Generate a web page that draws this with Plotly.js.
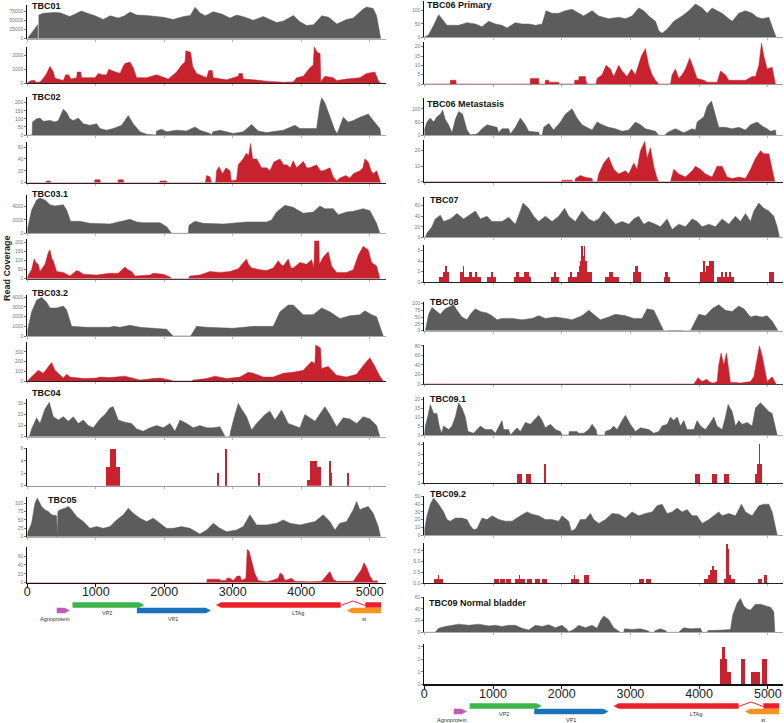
<!DOCTYPE html>
<html><head><meta charset="utf-8">
<script src="https://cdn.plot.ly/plotly-3.0.1.min.js"></script>
<style>html,body{margin:0;padding:0;background:#fff}#chart{width:784px;height:723px}</style>
</head><body><div id="chart"></div>
<script>
// ---------- DATA (genome position in bp, read coverage) ----------
// Left column samples
const TBC01_total = [[0,0],[60,15000],[140,37000],[152,38000],[153,0],[168,0],[169,64000],[230,69000],[380,71000],[480,70000],[620,60000],[700,68000],[790,75000],[890,68000],[990,62000],[1110,52000],[1210,62000],[1330,56000],[1420,62000],[1500,72000],[1600,64000],[1740,63000],[1890,61000],[1990,58000],[2130,52000],[2280,60000],[2380,63000],[2450,85000],[2520,70000],[2600,62000],[2715,73000],[2840,67000],[2960,56000],[3060,64000],[3180,58000],[3300,50000],[3445,60000],[3545,51000],[3640,44000],[3740,48000],[3885,63000],[3980,46000],[4080,36000],[4180,38000],[4300,62000],[4400,58000],[4520,40000],[4660,52000],[4760,56000],[4900,80000],[4955,86000],[5050,82000],[5100,62000],[5160,0]];
const TBC01_sub = [[0,0],[20,100],[60,200],[110,200],[130,50],[185,100],[240,400],[282,700],[331,1200],[355,1000],[380,800],[404,350],[470,250],[526,200],[560,600],[600,600],[640,300],[720,400],[730,800],[780,800],[793,400],[988,400],[1036,700],[1100,600],[1158,600],[1190,1000],[1230,900],[1280,800],[1353,700],[1400,1200],[1426,1400],[1499,1500],[1547,1100],[1596,400],[1742,400],[1888,600],[1985,400],[2058,300],[2180,800],[2253,1300],[2302,1500],[2315,2300],[2384,2200],[2414,1200],[2472,700],[2618,400],[2650,900],[2700,900],[2715,400],[2910,250],[3080,500],[3090,700],[3140,700],[3153,300],[3300,250],[3494,150],[3737,80],[3883,100],[3932,400],[4029,500],[4126,1100],[4175,1300],[4190,2600],[4230,2200],[4275,2100],[4285,100],[4297,200],[4345,500],[4467,400],[4516,200],[4662,300],[4856,400],[4954,700],[5075,800],[5124,200],[5158,0]];
const TBC02_total = [[0,0],[70,0],[75,80],[136,100],[185,105],[234,85],[331,90],[404,80],[453,90],[526,160],[574,140],[623,100],[672,90],[745,105],[818,70],[915,60],[1012,70],[1061,40],[1158,30],[1255,40],[1377,60],[1474,120],[1547,70],[1645,20],[1742,5],[1815,0],[1880,0],[1888,25],[1961,35],[2034,20],[2180,30],[2326,25],[2448,50],[2520,30],[2667,10],[2691,0],[2710,20],[2813,30],[3007,10],[3153,20],[3275,65],[3372,25],[3494,15],[3737,30],[3908,60],[3980,40],[4126,40],[4224,40],[4270,180],[4297,230],[4345,200],[4418,110],[4491,30],[4526,10],[4613,110],[4686,80],[4759,90],[4856,110],[4978,130],[5051,90],[5148,40],[5163,0]];
const TBC02_sub = [[0,0],[270,0],[282,3],[331,3],[345,0],[980,0],[988,5],[1060,5],[1070,0],[1320,0],[1330,5],[1400,5],[1410,0],[1930,0],[1940,3],[2030,3],[2040,0],[2600,0],[2618,12],[2667,10],[2690,0],[2750,0],[2764,20],[2800,27],[2850,15],[2900,25],[2960,20],[2980,3],[3056,5],[3080,30],[3150,40],[3200,50],[3230,45],[3260,66],[3290,40],[3350,40],[3420,25],[3494,25],[3543,20],[3600,35],[3690,40],[3740,30],[3786,30],[3840,25],[3883,37],[3930,25],[3980,30],[4030,36],[4080,25],[4126,25],[4224,30],[4280,20],[4321,20],[4418,25],[4467,10],[4516,3],[4564,8],[4650,12],[4710,8],[4760,15],[4856,20],[4900,25],[4929,40],[4978,35],[5020,20],[5051,15],[5100,20],[5148,5],[5160,0]];
const TBC031_total = [[0,500],[63,3500],[136,5000],[185,5300],[258,5000],[331,4300],[404,4100],[526,4300],[574,3500],[633,1800],[769,1800],[915,1500],[1207,1400],[1401,1800],[1499,2100],[1596,1700],[1693,1600],[1937,1600],[2034,1000],[2107,0],[2350,0],[2360,1200],[2448,1800],[2569,1500],[2861,1400],[3202,1700],[3494,1700],[3567,2000],[3640,3200],[3762,4200],[3883,3900],[4029,3000],[4175,3200],[4273,4100],[4345,3700],[4467,3700],[4540,2800],[4662,3200],[4759,3300],[4905,3700],[5002,3400],[5100,1500],[5148,0]];
const TBC031_sub = [[0,0],[15,20],[63,50],[100,110],[125,90],[160,80],[185,40],[258,80],[310,150],[331,160],[360,110],[380,100],[428,40],[526,35],[623,15],[720,45],[760,40],[818,25],[1012,20],[1207,30],[1328,30],[1400,60],[1426,65],[1470,50],[1523,40],[1572,15],[1791,20],[1839,30],[1985,25],[2083,10],[2107,0],[2350,0],[2375,15],[2520,20],[2667,40],[2813,35],[2959,40],[3080,55],[3180,100],[3200,110],[3230,80],[3275,60],[3397,50],[3494,45],[3591,60],[3664,100],[3700,80],[3737,70],[3810,110],[3850,60],[3883,60],[3980,90],[4078,80],[4151,105],[4185,60],[4195,210],[4258,210],[4265,80],[4321,120],[4394,150],[4443,70],[4516,35],[4662,35],[4759,50],[4832,130],[4905,180],[4978,160],[5027,90],[5100,70],[5148,0]];
const TBC032_total = [[0,500],[63,2500],[136,3700],[209,4000],[282,3500],[331,2900],[428,2900],[526,3100],[574,2700],[647,1000],[866,900],[1207,900],[1255,1000],[1353,900],[1499,1100],[1645,900],[2034,700],[2131,0],[2384,0],[2472,1000],[2618,900],[3007,800],[3300,1000],[3591,1000],[3689,2500],[3810,3200],[3883,3200],[4029,2200],[4175,2200],[4297,2900],[4418,2500],[4564,1800],[4710,2100],[4856,2200],[4929,2600],[5027,2200],[5100,2000],[5197,0]];
const TBC032_sub = [[0,0],[15,10],[88,60],[160,110],[234,80],[306,150],[355,190],[404,110],[477,60],[526,30],[574,70],[623,40],[818,25],[1012,30],[1061,40],[1207,35],[1426,50],[1547,30],[1645,10],[1839,25],[1937,30],[2083,10],[2131,0],[2399,0],[2423,10],[2618,25],[2740,50],[2910,25],[3105,40],[3226,90],[3300,80],[3445,40],[3591,40],[3737,80],[3883,90],[4029,110],[4151,200],[4200,180],[4210,370],[4282,340],[4295,130],[4394,150],[4516,60],[4662,40],[4808,70],[4905,160],[5002,240],[5075,150],[5148,50],[5197,0]];
const TBC04_total = [[0,0],[29,0],[63,7],[136,17],[185,12],[258,25],[321,31],[380,18],[453,15],[526,18],[599,14],[672,18],[745,12],[818,15],[890,10],[963,8],[1061,16],[1134,20],[1207,26],[1255,27],[1328,15],[1426,13],[1523,12],[1596,7],[1693,5],[1791,8],[1888,10],[1985,8],[2083,12],[2156,5],[2229,15],[2326,12],[2423,8],[2520,10],[2618,8],[2715,8],[2813,9],[2871,2],[2890,0],[2955,0],[2968,5],[3032,20],[3080,30],[3129,25],[3202,18],[3275,6],[3348,12],[3470,20],[3543,23],[3616,15],[3713,24],[3810,12],[3908,10],[3980,8],[4053,20],[4126,17],[4200,14],[4345,27],[4418,20],[4516,9],[4613,17],[4710,16],[4808,12],[4905,18],[5002,16],[5100,10],[5148,0]];
const TBC04_sub_blocks = [[1148,1207,3],[1207,1294,6],[1294,1353,3],[2769,2793,2],[2890,2920,6],[3367,3392,2],[4078,4126,1],[4126,4224,4],[4224,4282,3],[4404,4440,4],[4440,4453,2],[4667,4691,2]];
const TBC05_total = [[0,10],[63,40],[112,100],[146,115],[209,90],[258,80],[307,75],[355,65],[428,62],[434,0],[440,0],[446,75],[477,80],[550,85],[599,90],[647,80],[720,60],[818,45],[915,25],[1012,30],[1109,25],[1207,30],[1304,50],[1401,65],[1474,85],[1547,70],[1645,55],[1742,45],[1839,55],[1937,40],[2034,25],[2131,25],[2253,30],[2375,25],[2520,8],[2618,20],[2715,40],[2813,25],[2910,15],[3056,20],[3153,30],[3250,65],[3348,35],[3494,35],[3640,40],[3737,50],[3835,40],[3980,35],[4078,40],[4200,45],[4321,65],[4418,45],[4491,20],[4564,40],[4662,45],[4759,80],[4808,105],[4856,80],[4905,85],[4978,90],[5051,70],[5124,30],[5158,0]];
const TBC05_sub = [[0,0],[1880,0],[1888,1],[1985,1],[1995,0],[2618,0],[2628,8],[2813,8],[2820,5],[2905,5],[2910,10],[2959,10],[3007,5],[3066,15],[3105,15],[3129,5],[3192,10],[3212,75],[3240,70],[3275,50],[3324,20],[3372,5],[3494,2],[3567,5],[3664,10],[3689,22],[3727,18],[3762,5],[3810,8],[3859,10],[3908,3],[4126,2],[4297,3],[4370,15],[4418,25],[4467,8],[4516,3],[4759,3],[4832,20],[4881,30],[4915,45],[4954,35],[5002,15],[5051,3],[5100,5],[5124,0]];
// Right column samples
const TBC06P_total = [[0,0],[63,10],[136,45],[209,85],[257,70],[300,55],[330,45],[403,45],[500,45],[621,55],[743,50],[840,40],[937,60],[1034,50],[1131,45],[1204,35],[1325,55],[1422,50],[1519,50],[1617,45],[1714,50],[1772,100],[1859,90],[1956,90],[2053,100],[2150,105],[2248,90],[2320,80],[2442,100],[2539,80],[2684,70],[2830,75],[2927,70],[3024,80],[3121,110],[3194,100],[3267,80],[3364,60],[3413,25],[3461,15],[3534,30],[3631,60],[3752,80],[3850,100],[3947,125],[4044,110],[4117,90],[4189,110],[4262,100],[4335,90],[4432,70],[4481,60],[4578,90],[4675,100],[4772,90],[4845,75],[4917,70],[5015,75],[5063,40],[5112,5],[5121,0]];
const TBC06P_sub = [[0,0],[375,0],[379,2],[461,2],[465,0],[1540,0],[1544,3],[1665,3],[1670,0],[1758,0],[1762,2],[1811,2],[1815,1],[1956,1],[1960,0],[2185,0],[2189,2],[2248,2],[2252,4],[2345,4],[2350,2],[2370,0],[2500,0],[2515,3],[2587,5],[2646,10],[2709,8],[2757,4],[2830,10],[2878,7],[2951,4],[3015,8],[3073,5],[3160,15],[3218,19],[3267,10],[3316,5],[3364,2],[3413,0],[3583,0],[3607,5],[3655,8],[3704,3],[3752,5],[3801,8],[3864,14],[3922,8],[3971,3],[4068,2],[4117,1],[4262,1],[4311,7],[4383,5],[4432,2],[4578,2],[4675,2],[4772,4],[4820,4],[4869,10],[4908,22],[4942,15],[4990,8],[5063,9],[5102,2],[5110,0]];
const TBC06M_total = [[0,20],[39,50],[87,65],[136,50],[184,70],[233,80],[267,95],[306,60],[354,40],[403,10],[451,60],[500,90],[558,80],[621,20],[670,2],[767,5],[840,25],[913,40],[985,35],[1058,30],[1083,10],[1131,25],[1228,25],[1252,5],[1325,30],[1398,65],[1471,40],[1519,15],[1665,12],[1680,0],[1714,0],[1738,30],[1811,45],[1883,20],[1981,50],[2053,80],[2150,100],[2223,65],[2296,40],[2369,30],[2442,20],[2515,50],[2587,40],[2684,30],[2782,25],[2879,15],[2976,20],[3073,50],[3146,40],[3218,25],[3364,15],[3413,0],[3500,0],[3534,10],[3655,25],[3777,10],[3898,25],[3947,20],[3971,50],[4068,70],[4117,110],[4180,130],[4238,80],[4286,30],[4383,30],[4481,25],[4578,30],[4675,20],[4748,40],[4845,50],[4917,35],[4990,25],[5039,15],[5112,20],[5121,0]];
const TBC06M_sub = [[0,0],[2000,0],[2005,1],[2150,1],[2160,0],[2195,0],[2199,2],[2272,4],[2330,3],[2442,2],[2450,0],[2515,0],[2539,5],[2612,12],[2684,16],[2757,8],[2830,5],[2927,7],[2976,5],[3049,12],[3097,8],[3146,20],[3209,26],[3243,15],[3291,22],[3340,10],[3388,2],[3413,0],[3583,0],[3631,8],[3704,5],[3801,3],[3898,7],[3947,10],[4019,8],[4092,5],[4189,3],[4262,10],[4335,10],[4408,3],[4481,2],[4578,3],[4675,2],[4748,8],[4820,15],[4893,20],[4942,18],[5015,18],[5063,8],[5102,0]];
const TBC07_total = [[0,0],[15,0],[39,8],[87,15],[112,20],[136,28],[160,35],[233,42],[282,30],[379,35],[476,45],[573,35],[694,45],[743,50],[816,35],[913,40],[985,30],[1131,30],[1228,38],[1325,25],[1398,50],[1437,65],[1519,55],[1592,40],[1665,30],[1762,40],[1859,30],[1956,40],[2044,55],[2102,40],[2199,30],[2296,50],[2393,35],[2466,30],[2539,35],[2612,50],[2684,40],[2782,25],[2879,30],[2976,25],[3049,35],[3121,40],[3194,25],[3267,30],[3364,25],[3437,20],[3534,35],[3607,15],[3704,25],[3801,20],[3898,35],[3971,30],[4044,20],[4141,25],[4238,20],[4335,35],[4432,25],[4529,40],[4602,30],[4675,45],[4748,30],[4796,50],[4869,65],[4942,55],[5015,50],[5087,40],[5136,20],[5170,0]];
const TBC07_sub_blocks = [[209,267,1],[267,296,2],[296,330,3],[330,364,2],[515,563,2],[563,583,3],[583,655,1],[655,694,2],[694,743,1],[743,772,2],[772,830,1],[913,976,1],[976,995,2],[995,1049,1],[1301,1335,1],[1335,1374,2],[1374,1447,1],[1447,1519,2],[1519,1549,1],[1845,1893,1],[1893,1913,2],[1913,1966,1],[2087,2126,1],[2126,2155,2],[2155,2223,1],[2223,2248,2],[2248,2272,3],[2272,2286,4],[2286,2306,7],[2306,2320,5],[2320,2345,7],[2345,2369,4],[2369,2442,2],[2636,2684,1],[2684,2743,2],[2743,2840,1],[3034,3073,2],[3073,3107,3],[3107,3160,2],[3485,3510,1],[3510,3549,2],[3549,3583,1],[4019,4058,2],[4058,4083,4],[4083,4107,2],[4107,4141,3],[4141,4218,4],[4267,4316,1],[4316,4345,2],[4345,4383,1],[4383,4408,2],[4408,4442,1],[4442,4461,2],[4461,4505,1],[5015,5092,2]];
const TBC08_total = [[0,0],[15,0],[63,60],[112,85],[184,70],[233,60],[306,80],[379,90],[427,95],[476,75],[548,50],[621,40],[670,60],[743,80],[816,70],[913,65],[985,55],[1058,40],[1131,45],[1277,45],[1422,40],[1568,45],[1665,55],[1762,45],[1908,50],[2053,45],[2150,40],[2296,55],[2393,75],[2490,55],[2563,40],[2684,50],[2782,60],[2927,55],[3049,45],[3170,45],[3243,80],[3340,75],[3413,40],[3485,0],[3540,0],[3558,1],[3752,1],[3770,0],[3874,0],[3947,40],[3995,60],[4092,55],[4189,80],[4286,95],[4383,75],[4481,70],[4578,90],[4651,80],[4748,50],[4820,55],[4917,50],[4990,55],[5063,35],[5136,5],[5150,0]];
const TBC08_sub = [[0,0],[325,0],[330,1],[403,1],[410,0],[930,0],[937,1],[985,1],[990,0],[3922,0],[3947,5],[3985,13],[4044,5],[4107,10],[4165,3],[4214,2],[4262,5],[4286,40],[4320,65],[4359,40],[4398,65],[4432,30],[4456,3],[4529,3],[4602,2],[4651,3],[4748,5],[4796,15],[4845,50],[4878,80],[4917,60],[4956,30],[4990,5],[5063,15],[5112,3],[5120,0]];
const TBC091_total = [[0,0],[15,5],[49,10],[87,17],[136,12],[184,12],[218,5],[248,1],[282,5],[354,3],[403,5],[451,10],[500,18],[548,15],[597,10],[636,2],[718,1],[816,5],[888,3],[985,3],[1034,1],[1083,5],[1131,8],[1155,3],[1228,3],[1252,0],[1301,2],[1350,4],[1398,2],[1471,7],[1544,6],[1592,8],[1665,11],[1714,8],[1762,4],[1835,6],[1908,3],[1981,2],[2005,0],[2102,0],[2110,2],[2223,2],[2248,1],[2320,1],[2393,3],[2442,6],[2500,3],[2515,0],[2626,0],[2636,2],[2709,3],[2757,5],[2806,3],[2879,8],[2927,11],[3000,6],[3073,2],[3146,4],[3267,3],[3340,1],[3413,2],[3461,5],[3534,6],[3583,10],[3631,8],[3680,10],[3728,5],[3777,8],[3825,3],[3922,3],[3971,8],[4019,5],[4092,3],[4165,7],[4214,10],[4262,5],[4335,3],[4383,10],[4422,17],[4481,13],[4529,5],[4578,8],[4626,6],[4699,7],[4772,5],[4820,15],[4893,18],[4966,15],[5015,13],[5063,12],[5112,5],[5136,0]];
const TBC091_sub_blocks = [[1350,1422,1],[1485,1558,1],[1738,1772,2],[3947,4019,1],[4189,4262,1],[4369,4442,1],[4806,4840,1],[4840,4869,2],[4869,4888,3],[4875,4879,4],[4888,4917,2]];
const TBC092_total = [[0,5],[39,25],[87,40],[136,48],[209,40],[282,30],[330,20],[379,18],[451,22],[548,22],[621,20],[670,12],[718,7],[767,8],[840,22],[913,20],[985,25],[1083,20],[1180,18],[1277,18],[1398,25],[1495,30],[1568,27],[1665,25],[1762,20],[1859,20],[1956,18],[2005,25],[2102,18],[2141,5],[2199,8],[2272,20],[2345,20],[2418,28],[2466,20],[2539,15],[2636,20],[2733,28],[2830,27],[2927,22],[3024,30],[3121,25],[3218,28],[3316,30],[3388,38],[3461,40],[3534,28],[3607,30],[3680,35],[3752,30],[3825,33],[3898,25],[3971,25],[4044,15],[4141,20],[4214,25],[4286,30],[4335,25],[4432,28],[4529,25],[4617,40],[4675,30],[4772,25],[4869,38],[4942,40],[5015,40],[5063,30],[5112,10],[5136,0]];
const TBC092_sub_blocks = [[145,272,1],[199,218,2],[1019,1082,1],[1107,1170,1],[1194,1262,1],[1316,1374,1],[1374,1398,2],[1398,1461,1],[1495,1568,1],[1607,1680,1],[1714,1787,1],[2141,2175,1],[2175,2199,2],[2199,2248,1],[2330,2393,2],[3121,3194,1],[3233,3301,1],[4068,4131,1],[4131,4165,2],[4165,4189,3],[4189,4214,4],[4199,4206,5],[4214,4262,3],[4369,4398,1],[4398,4418,9],[4418,4442,8],[4442,4471,2],[4471,4515,1],[4854,4917,1],[4942,4990,2]];
const TBC09N_total = [[0,0],[160,0],[170,2],[209,7],[306,10],[403,12],[500,14],[646,12],[791,14],[937,11],[1034,12],[1131,10],[1228,12],[1325,12],[1422,7],[1519,4],[1617,12],[1714,10],[1811,13],[1908,8],[2005,12],[2078,5],[2102,1],[2175,5],[2248,12],[2345,8],[2442,12],[2515,7],[2563,20],[2612,28],[2684,22],[2757,8],[2830,3],[2854,0],[2903,0],[2913,6],[3024,5],[3146,6],[3243,3],[3291,0],[3340,0],[3364,3],[3437,6],[3510,3],[3534,0],[3704,0],[3728,3],[3777,8],[3874,6],[3971,7],[4019,7],[4044,0],[4117,0],[4131,3],[4238,3],[4359,4],[4456,5],[4490,30],[4553,50],[4602,58],[4650,45],[4699,40],[4748,38],[4820,48],[4893,48],[4966,45],[5039,43],[5087,35],[5102,0]];
const TBC09N_sub_blocks = [[4311,4335,2],[4335,4383,3],[4383,4408,2],[4408,4471,1],[4612,4665,2],[4748,4893,1],[4917,4990,2]];

// Genome map (bp)
const geneNames  = ['Agnoprotein','VP2','VP1','LTAg','','st'];
const geneStart  = [430, 660, 1600, 2755, 4935, 4665];
const geneEnd    = [620, 1710, 2680, 4575, 5165, 5165];
const geneStrand = ['+','+','+','-','exon','-'];
const geneLabelPos = [410, 1160, 2130, 3955, null, 4930];
const ltagIntron = [[4575,16.5],[4755,21],[4935,16.5]];

// Sample titles
const leftTitles  = ['TBC01','TBC02','TBC03.1','TBC03.2','TBC04','TBC05'];
const rightTitles = ['TBC06 Primary','TBC06 Metastasis','TBC07','TBC08','TBC09.1','TBC09.2','TBC09 Normal bladder'];

// ---------- STYLE / LAYOUT ----------
const W=784, H=723;
const GREY='#5c5c5c', RED='#c8222e';
const FONT='"Liberation Sans", Arial, Helvetica, sans-serif';
const geneColors = ['#c359b4','#3db54a','#1b72bb','#ec2028','#ec2028','#f7941d'];
const geneTrack  = [11.5, 17, 11.5, 17, 17, 11.5];
const labelY     = [3, 9, 3, 9, null, 3];

const traces=[];
const layout={width:W,height:H,margin:{l:0,r:0,t:0,b:0,pad:0},showlegend:false,
  paper_bgcolor:'#ffffff',plot_bgcolor:'rgba(0,0,0,0)',annotations:[],barmode:'overlay',bargap:0,
  font:{family:FONT}};
let n=0;
function ax(i){return i===1?'':String(i);}
function colDomain(col){return col===0?[27.3/W,385.5/W]:[424.3/W,782.6/W];}
function colMax(col){return col===0?5230:5215;}

function addPanel(col, top, bottom, yMax, tickvals, data, kind, color, base, bottomAxis, tickformat){
  n++; const s=ax(n);
  layout['xaxis'+s]={domain:colDomain(col), range:[0,colMax(col)], anchor:'y'+s, showline:true,
    linecolor:base, linewidth:bottomAxis?1.6:1, ticks:'outside', tickvals:[0,1000,2000,3000,4000,5000],
    ticklen:bottomAxis?3:2, tickwidth:1, tickcolor:bottomAxis?'#111':'#b5b5b5', showticklabels:!!bottomAxis,
    ticklabelstandoff:bottomAxis?-6:0,
    tickformat:'d', tickfont:{size:12.5,color:'#222',family:FONT}, showgrid:false, zeroline:false, fixedrange:true};
  layout['yaxis'+s]={domain:[1-bottom/H, 1-top/H], range:[0,yMax], anchor:'x'+s, showline:true,
    linecolor:'#111', linewidth:1, ticks:'outside', tickvals:tickvals, ticklen:2, tickwidth:0.7,
    tickcolor:'#444', tickfont:{size:5,color:'#777',family:FONT}, showgrid:false, zeroline:false,
    fixedrange:true, tickformat:tickformat||'d'};
  if(kind==='area'){
    traces.push({type:'scatter',mode:'lines',x:data.map(p=>p[0]),y:data.map(p=>p[1]),
      xaxis:'x'+s,yaxis:'y'+s,fill:'tozeroy',fillcolor:color,line:{color:color,width:0.5},hoverinfo:'skip'});
  } else {
    traces.push({type:'bar',x:data.map(b=>(b[0]+b[1])/2),width:data.map(b=>b[1]-b[0]),y:data.map(b=>b[2]),
      xaxis:'x'+s,yaxis:'y'+s,marker:{color:color,line:{width:0}},hoverinfo:'skip'});
  }
}

function addGeneMap(col, top, bottom){
  n++; const s=ax(n);
  layout['xaxis'+s]={domain:colDomain(col), range:[0,colMax(col)], anchor:'y'+s, visible:false, fixedrange:true};
  layout['yaxis'+s]={domain:[1-bottom/H, 1-top/H], range:[0,25], anchor:'x'+s, visible:false, fixedrange:true};
  const hh=2.7, hl=75;
  for(let i=0;i<geneNames.length;i++){
    const a=geneStart[i], b=geneEnd[i], y=geneTrack[i];
    let px, py;
    if(geneStrand[i]==='+'){ px=[a,b-hl,b,b-hl,a,a]; py=[y-hh,y-hh,y,y+hh,y+hh,y-hh]; }
    else if(geneStrand[i]==='-'){ px=[b,a+hl,a,a+hl,b,b]; py=[y-hh,y-hh,y,y+hh,y+hh,y-hh]; }
    else { px=[a,b,b,a,a]; py=[y-hh,y-hh,y+hh,y+hh,y-hh]; }
    traces.push({type:'scatter',mode:'lines',x:px,y:py,fill:'toself',fillcolor:geneColors[i],
      line:{width:0,color:geneColors[i]},xaxis:'x'+s,yaxis:'y'+s,hoverinfo:'skip'});
    if(geneNames[i]) layout.annotations.push({xref:'x'+s,yref:'y'+s,x:geneLabelPos[i],y:labelY[i],
      text:geneNames[i],showarrow:false,font:{size:5.5,color:'#333',family:FONT},xanchor:'center',yanchor:'middle'});
  }
  traces.push({type:'scatter',mode:'lines',x:ltagIntron.map(p=>p[0]),y:ltagIntron.map(p=>p[1]),
    line:{color:'#ec2028',width:1},xaxis:'x'+s,yaxis:'y'+s,hoverinfo:'skip'});
}

// Left column panels
addPanel(0,5,38.7,91300,[0,25000,50000,75000],TBC01_total,'area',GREY,'#aaaaaa');
addPanel(0,46.7,83.3,2590,[0,1000,2000],TBC01_sub,'area',RED,'#222222');
addPanel(0,96.7,135,237,[0,50,100,150,200],TBC02_total,'area',GREY,'#aaaaaa');
addPanel(0,141.7,182.7,69,[0,20,40,60],TBC02_sub,'area',RED,'#222222');
addPanel(0,195,233.3,5750,[0,2000,4000],TBC031_total,'area',GREY,'#aaaaaa');
addPanel(0,239.3,278.7,219,[0,50,100,150,200],TBC031_sub,'area',RED,'#444444');
addPanel(0,295,336,4240,[0,1000,2000,3000,4000],TBC032_total,'area',GREY,'#aaaaaa');
addPanel(0,341.7,381,405,[0,100,200,300],TBC032_sub,'area',RED,'#222222');
addPanel(0,399.3,436.7,33.7,[0,10,20,30],TBC04_total,'area',GREY,'#aaaaaa');
addPanel(0,448,485.7,6.08,[0,2,4,6],TBC04_sub_blocks,'bar',RED,'#999999');
addPanel(0,496.7,536.7,119,[0,25,50,75,100],TBC05_total,'area',GREY,'#aaaaaa');
addPanel(0,546.7,582.7,81,[0,20,40,60],TBC05_sub,'area',RED,'#111111',true);
addGeneMap(0,597,622);
// Right column panels
addPanel(1,0.5,37.3,138,[0,50,100],TBC06P_total,'area',GREY,'#aaaaaa');
addPanel(1,41.7,84,22.7,[0,5,10,15,20],TBC06P_sub,'area',RED,'#999999');
addPanel(1,98.3,135.3,140,[0,50,100],TBC06M_total,'area',GREY,'#aaaaaa');
addPanel(1,140,181.7,26.9,[0,10,20],TBC06M_sub,'area',RED,'#222222');
addPanel(1,197.3,237.3,76,[0,20,40,60],TBC07_total,'area',GREY,'#aaaaaa');
addPanel(1,245,282,7.1,[0,2,4,6],TBC07_sub_blocks,'bar',RED,'#222222');
addPanel(1,301.7,330.7,106,[0,25,50,75,100],TBC08_total,'area',GREY,'#aaaaaa');
addPanel(1,345,384,82,[0,20,40,60,80],TBC08_sub,'area',RED,'#444444');
addPanel(1,396.7,435,21.3,[0,5,10,15,20],TBC091_total,'area',GREY,'#aaaaaa');
addPanel(1,441.7,483.3,4.27,[0,1,2,3,4],TBC091_sub_blocks,'bar',RED,'#222222');
addPanel(1,495.7,535,51,[0,10,20,30,40,50],TBC092_total,'area',GREY,'#aaaaaa');
addPanel(1,543.3,583.3,9.26,[0,2.5,5,7.5],TBC092_sub_blocks,'bar',RED,'#222222',false,'.1f');
addPanel(1,596.7,632.3,61,[0,20,40,60],TBC09N_total,'area',GREY,'#aaaaaa');
addPanel(1,644.3,684.3,3.2,[0,1,2,3],TBC09N_sub_blocks,'bar',RED,'#111111',true);
addGeneMap(1,698,723);

// Titles
const leftTitlePos  = [[30,6],[30,97],[30,194],[30,292.5],[30,393],[46,500]];
const rightTitlePos = [[425.3,5],[425.3,104],[427.7,200],[427.7,301.7],[427.7,399.3],[427.7,494.3],[427,603.3]];
function addTitle(t,p){
  layout.annotations.push({xref:'paper',yref:'paper',x:p[0]/W,y:1-p[1]/H,text:'<b>'+t+'</b>',showarrow:false,
    xanchor:'left',yanchor:'middle',font:{size:9,color:'#111',family:FONT}});
}
leftTitles.forEach((t,i)=>addTitle(t,leftTitlePos[i]));
rightTitles.forEach((t,i)=>addTitle(t,rightTitlePos[i]));
layout.annotations.push({xref:'paper',yref:'paper',x:7/W,y:1-268/H,text:'<b>Read Coverage</b>',showarrow:false,
  textangle:-90,xanchor:'center',yanchor:'middle',font:{size:9,color:'#222',family:FONT}});

Plotly.newPlot('chart',traces,layout,{displayModeBar:false,staticPlot:true});
</script></body></html>
